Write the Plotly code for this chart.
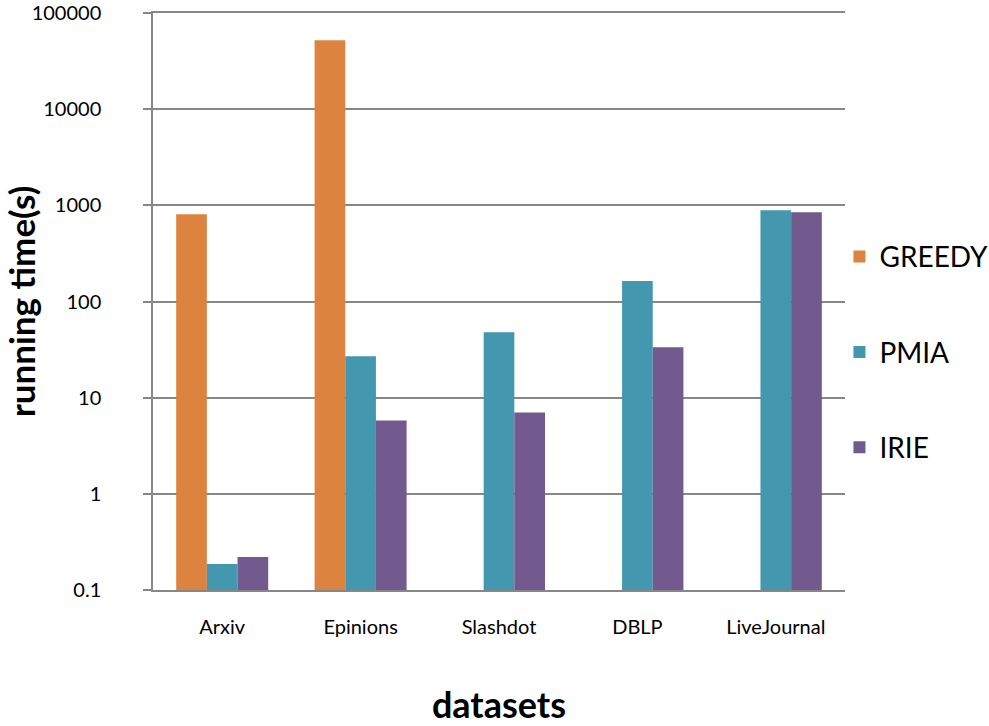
import plotly.graph_objects as go

datasets = ["Arxiv", "Epinions", "Slashdot", "DBLP", "LiveJournal"]
greedy = [806, 52000, None, None, None]
pmia = [0.186, 27, 48, 163, 887]
irie = [0.22, 5.8, 7.0, 33.5, 846]

y_tick_vals = [0.1, 1, 10, 100, 1000, 10000, 100000]
y_tick_text = ["0.1", "1", "10", "100", "1000", "10000", "100000"]

colors = {"GREEDY": "#DC843F", "PMIA": "#4398B0", "IRIE": "#725A8F"}

fig = go.Figure()
for name, vals in [("GREEDY", greedy), ("PMIA", pmia), ("IRIE", irie)]:
    fig.add_trace(go.Bar(x=datasets, y=vals, name=name, legendgroup=name,
                         marker=dict(color=colors[name], line=dict(width=0))))

font_family = "Lato, 'Open Sans', sans-serif"
fig.update_layout(
    width=989, height=726,
    margin=dict(l=153, r=144, t=13, b=136, autoexpand=False),
    paper_bgcolor="white", plot_bgcolor="white",
    barmode="group", bargap=0.335, bargroupgap=0,
    font=dict(family=font_family, size=20, color="black"),
    showlegend=True,
    legend=dict(x=0.992, xanchor="left", y=0.412, yanchor="middle",
                tracegroupgap=56, font=dict(size=28, family=font_family),
                itemwidth=30, bgcolor="rgba(0,0,0,0)"),
)
fig.update_xaxes(
    showline=True, linecolor="#878787", linewidth=1.5, mirror=True,
    ticks="", tickfont=dict(size=20), ticklabelstandoff=18,
    automargin=False,
    title=dict(text="<b>datasets</b>", font=dict(size=36), standoff=80),
)
fig.update_yaxes(
    type="log", range=[-1, 5],
    tickvals=y_tick_vals, ticktext=y_tick_text,
    showgrid=True, gridcolor="#878787", gridwidth=1.5,
    showline=True, linecolor="#878787", linewidth=1.5,
    ticks="outside", ticklen=8, tickcolor="#878787", tickwidth=1.5,
    tickfont=dict(size=20), ticklabelstandoff=38, ticklabeloverflow="allow",
    automargin=False,
    title=dict(text="<b>running time(s)</b>", font=dict(size=35), standoff=8),
    zeroline=False,
)

fig.write_html(
    "out.html",
    config={"displayModeBar": False},
    post_script="document.body.style.margin='0';document.body.style.overflow='hidden';",
)
